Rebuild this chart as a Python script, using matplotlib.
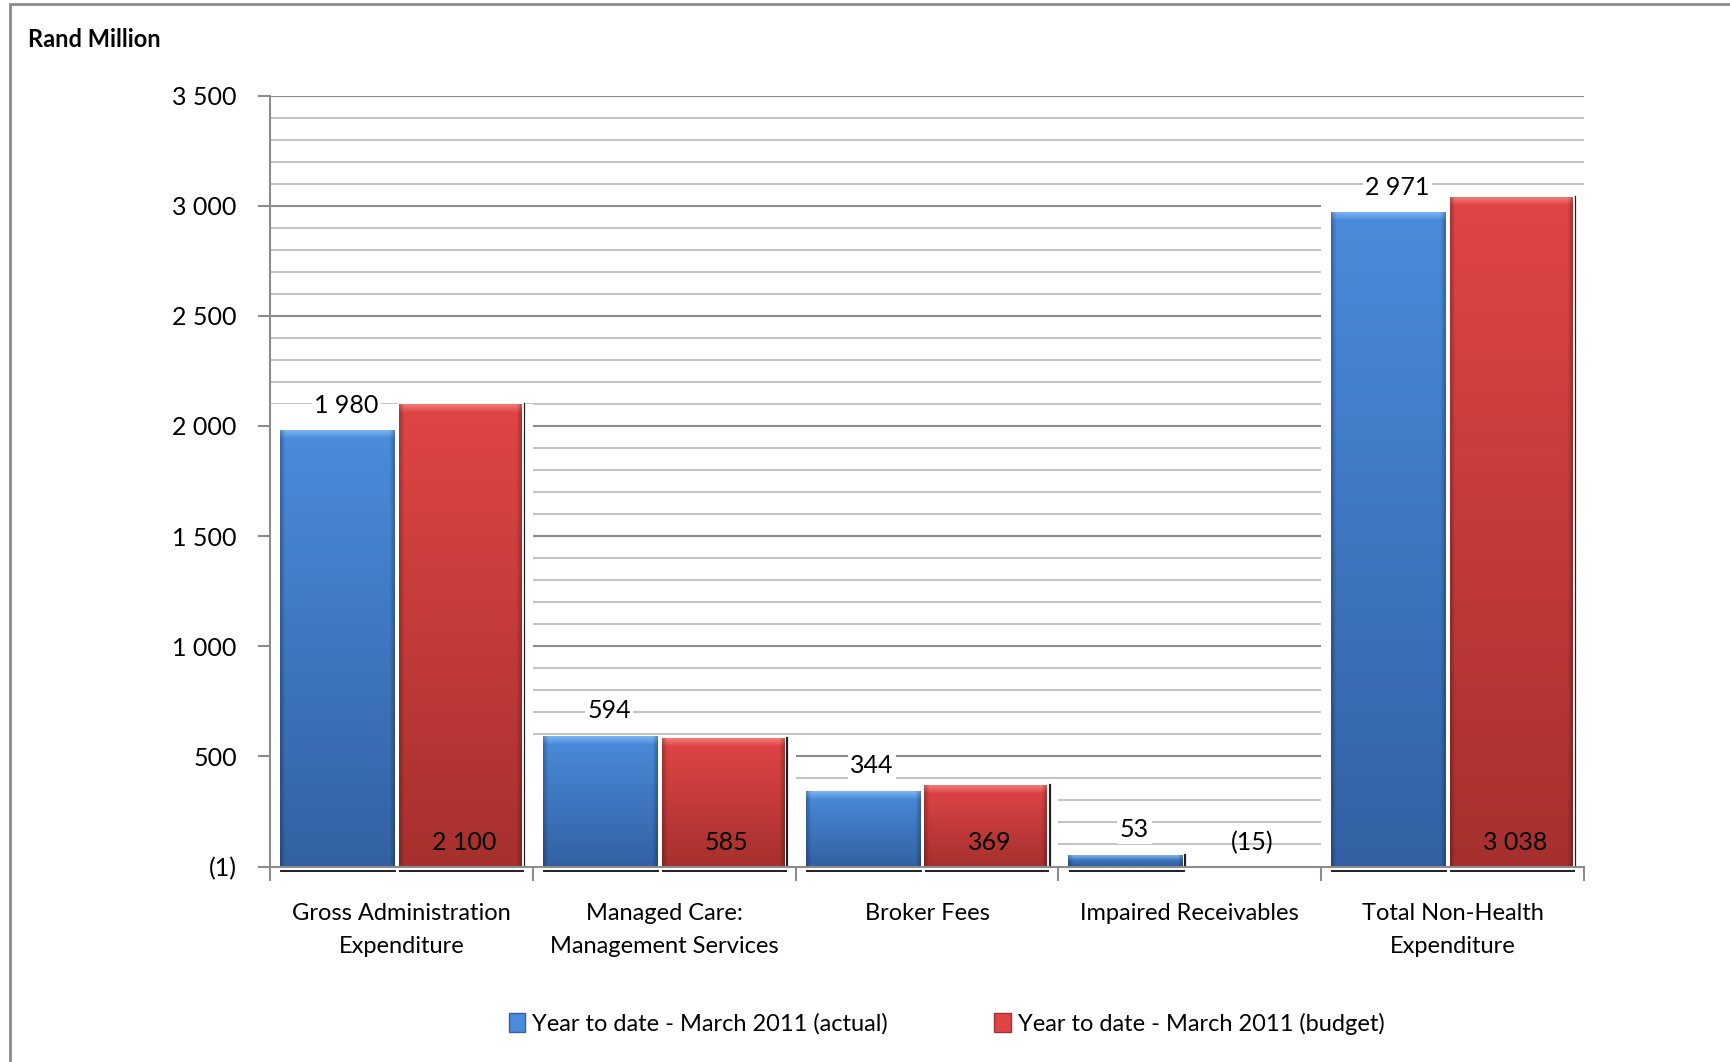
import numpy as np
import matplotlib
matplotlib.use("Agg")
import matplotlib.pyplot as plt
import matplotlib.patches as patches
from matplotlib.ticker import FixedLocator, MultipleLocator, FuncFormatter

categories = ["Gross Administration\nExpenditure", "Managed Care:\nManagement Services",
              "Broker Fees", "Impaired Receivables", "Total Non-Health\nExpenditure"]
actual = [1980, 594, 344, 53, 2971]
budget = [2100, 585, 369, -15, 3038]
series_names = ["Year to date - March 2011 (actual)", "Year to date - March 2011 (budget)"]
y_ticks = [-1, 500, 1000, 1500, 2000, 2500, 3000, 3500]

plt.rcParams['font.family'] = ['Lato', 'DejaVu Sans']

BLUE = dict(top=(0.29, 0.55, 0.86), bottom=(0.20, 0.38, 0.64), bevel=(0.50, 0.72, 0.95))
RED = dict(top=(0.88, 0.27, 0.27), bottom=(0.65, 0.19, 0.18), bevel=(0.96, 0.50, 0.48))


def fmt(v, pos=None):
    v = int(round(v))
    s = "{:,}".format(abs(v)).replace(",", " ")
    return "({})".format(s) if v < 0 else s


def gradient_fill(ax, bar, scheme, px_per_unit_y, px_per_unit_x):
    # vertical gradient with a lighter bevel at the top and darker side edges
    x0, y0 = bar.get_x(), bar.get_y()
    w, h = bar.get_width(), bar.get_height()
    rows = max(int(h * px_per_unit_y), 2)
    cols = max(int(w * px_per_unit_x), 2)
    t = np.linspace(0, 1, rows)[:, None]
    top = np.array(scheme['top'])
    bot = np.array(scheme['bottom'])
    img = top[None, None, :] * (1 - t[..., None]) + bot[None, None, :] * t[..., None]
    img = np.repeat(img, cols, axis=1)
    bev = min(9, rows // 2)
    for k in range(bev):
        a = 1 - k / bev
        img[k, :, :] = img[k, :, :] * (1 - a) + np.array(scheme['bevel']) * a
    edge = min(5, cols // 4)
    for k in range(edge):
        a = 0.25 * (1 - k / edge)
        img[:, k, :] *= (1 - a)
        img[:, cols - 1 - k, :] *= (1 - a)
    im = ax.imshow(img, extent=(x0, x0 + w, y0, y0 + h),
                   aspect='auto', interpolation='bilinear', zorder=3)
    im.set_clip_path(bar)


fig = plt.figure(figsize=(17.31, 10.62), dpi=100)
ax = fig.add_axes([0.156, 0.184, 0.759, 0.726])

n = len(categories)
idx = np.arange(n)
blue_x0, blue_w = 0.038, 0.434
red_x0, red_w = 0.490, 0.467

bars_a = ax.bar(idx + blue_x0, actual, width=blue_w, align='edge', color=BLUE['top'],
                edgecolor='white', linewidth=2, zorder=2.8)
bars_b = ax.bar(idx + red_x0, budget, width=red_w, align='edge', color=RED['top'],
                edgecolor='white', linewidth=2, zorder=2.8)
# a negative budget falls below the (-1) floor of the axis, so it shows no body
for b in list(bars_a) + list(bars_b):
    if b.get_height() <= 0:
        b.set_edgecolor('none')

ax.set_xlim(0, n)
ax.set_ylim(-1, 3500)

# pixel scale for the gradient images
bbox = ax.get_window_extent()
ppy = bbox.height / 3501.0
ppx = bbox.width / n

for b in bars_a:
    if b.get_height() > 0:
        gradient_fill(ax, b, BLUE, ppy, ppx)
for b in bars_b:
    if b.get_height() > 0:
        gradient_fill(ax, b, RED, ppy, ppx)

# white "walls" hiding the grid behind each group, plus the dark shadow edges
for i in range(n):
    pos = [b for b in (bars_a[i], bars_b[i]) if b.get_height() > 0]
    top = max(b.get_height() for b in pos)
    ax.add_patch(patches.Rectangle((i, 0), 1.0, top, facecolor='white', edgecolor='none', zorder=1))
    last = pos[-1]
    xr = last.get_x() + last.get_width() + 0.011
    ax.plot([xr, xr], [0, last.get_height()], color='#202020', lw=1.6, zorder=2.6)
    for b in pos:
        ax.plot([b.get_x() + 0.005, b.get_x() + b.get_width() + 0.005], [-22, -22],
                color='#202020', lw=1.4, clip_on=False, zorder=2.6)

ax.set_xlim(0, n)
ax.set_ylim(-1, 3500)

# grid
ax.set_axisbelow(True)
ax.yaxis.set_major_locator(FixedLocator(y_ticks))
ax.yaxis.set_minor_locator(MultipleLocator(100))
ax.yaxis.set_major_formatter(FuncFormatter(fmt))
ax.grid(axis='y', which='major', color='#8c8c8c', lw=1.5)
ax.grid(axis='y', which='minor', color='#c4c4c4', lw=1.5)
ax.tick_params(axis='y', which='minor', length=0)
ax.tick_params(axis='y', which='major', length=9, width=1.5, color='#8c8c8c',
               pad=15, labelsize=18)

# x axis: ticks at group boundaries, labels centred under groups
ax.set_xticks(np.arange(n + 1))
ax.set_xticklabels([])
ax.set_xticks(idx + 0.5, minor=True)
ax.set_xticklabels(categories, minor=True, fontsize=17, linespacing=1.7, va='top')
ax.tick_params(axis='x', which='major', length=10, width=1.5, color='#8c8c8c', direction='out')
ax.tick_params(axis='x', which='minor', length=0, pad=26)

for s in ['top', 'right']:
    ax.spines[s].set_visible(False)
for s in ['left', 'bottom']:
    ax.spines[s].set_color('#8c8c8c')
    ax.spines[s].set_linewidth(1.5)
    ax.spines[s].set_zorder(4)

# value labels
for b, v in zip(bars_a, actual):
    ax.annotate(fmt(v), xy=(b.get_x() + b.get_width() / 2 + 0.035, v), xytext=(0, 18),
                textcoords='offset points', ha='center', va='center', fontsize=18, zorder=6,
                bbox=dict(boxstyle='square,pad=0.1', fc='white', ec='none'))
for b, v in zip(bars_b, budget):
    ax.annotate(fmt(v), xy=(b.get_x() + b.get_width() / 2 + 0.015, 0), xytext=(0, 17),
                textcoords='offset points', ha='center', va='center', fontsize=18, zorder=6)

fig.text(0.016, 0.963, "Rand Million", fontsize=17, fontweight='bold', va='center', ha='left')

# legend
handles = [patches.Patch(facecolor=BLUE['top'], edgecolor=BLUE['bottom']),
           patches.Patch(facecolor=RED['top'], edgecolor=RED['bottom'])]
fig.legend(handles, series_names, loc='center', bbox_to_anchor=(0.547, 0.036), ncol=2,
           frameon=False, fontsize=17, handlelength=0.7, handleheight=0.9,
           handletextpad=0.3, columnspacing=4.5)

# chart frame
fig.patches.append(patches.Rectangle((0.0055, -0.2), 1.2, 1.196, transform=fig.transFigure,
                                     fill=False, edgecolor='#8c8c8c', lw=2))

fig.savefig("out.png", dpi=100)
